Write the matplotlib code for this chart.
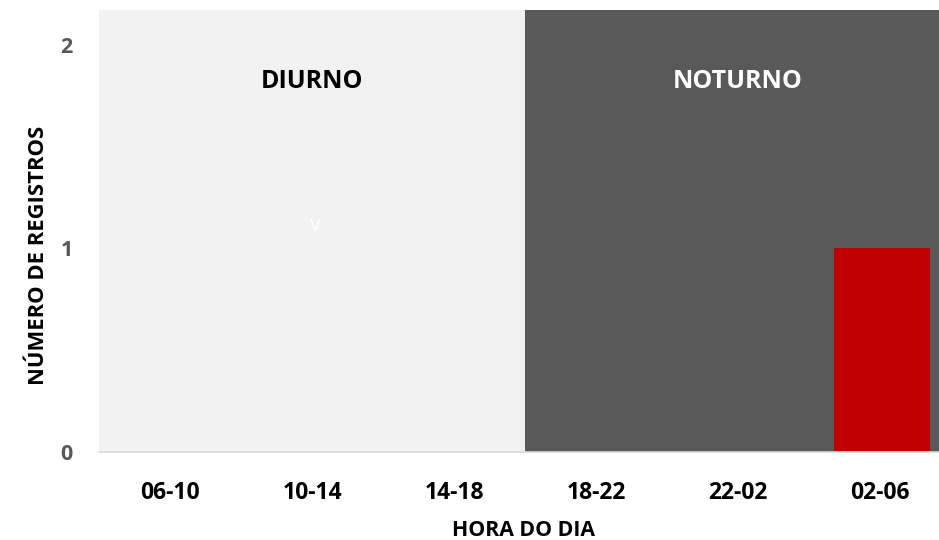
import matplotlib
matplotlib.use("Agg")
import matplotlib.pyplot as plt

categories = ["06-10", "10-14", "14-18", "18-22", "22-02", "02-06"]
values = [0, 0, 0, 0, 0, 1]
y_ticks = [0, 1, 2]
periods = ["DIURNO", "NOTURNO"]

plt.rcParams['font.family'] = ['Open Sans', 'DejaVu Sans']

fig = plt.figure(figsize=(9.39, 5.40), dpi=100)
W, H = 939, 540
ax = fig.add_axes([99 / W, (540 - 452) / H, 852 / W, (452 - 10) / H])

ymax = 2.17
x = list(range(len(categories)))
ax.axvspan(-0.5, 2.5, color="#f2f2f2", zorder=0, lw=0)
ax.axvspan(2.5, 5.5, color="#595959", zorder=0, lw=0)
ax.bar([i + 0.015 for i in x], values, width=0.68, color="#c00000", zorder=2)

ax.set_xlim(-0.5, 5.5)
ax.set_ylim(0, ymax)
ax.set_yticks(y_ticks)
ax.set_yticklabels([str(t) for t in y_ticks], fontsize=15.5, fontweight="bold", color="#595959")
ax.set_xticks(x)
ax.set_xticklabels(categories, fontsize=16.5, fontweight="bold", color="#000000")
ax.tick_params(axis="y", length=0, pad=19)
ax.tick_params(axis="x", length=0, pad=21)

for s in ["top", "right", "left"]:
    ax.spines[s].set_visible(False)
ax.spines["bottom"].set_color("#d9d9d9")
ax.spines["bottom"].set_linewidth(1.2)

ax.text(1, 1.82, periods[0], ha="center", va="center", fontsize=18, fontweight="bold", color="#000000")
ax.text(4, 1.82, periods[1], ha="center", va="center", fontsize=18, fontweight="bold", color="#ffffff")
ax.text(1.02, 1.11, "v", ha="center", va="center", fontsize=15, color="#ffffff")

fig.text(39 / W, 1 - 255 / H, "NÚMERO DE REGISTROS", rotation=90, ha="center", va="center",
         fontsize=15.8, fontweight="bold", color="#000000")
fig.text(523 / W, 1 - 530 / H, "HORA DO DIA", ha="center", va="center",
         fontsize=15.3, fontweight="bold", color="#000000")

fig.savefig("out.png", dpi=100)
